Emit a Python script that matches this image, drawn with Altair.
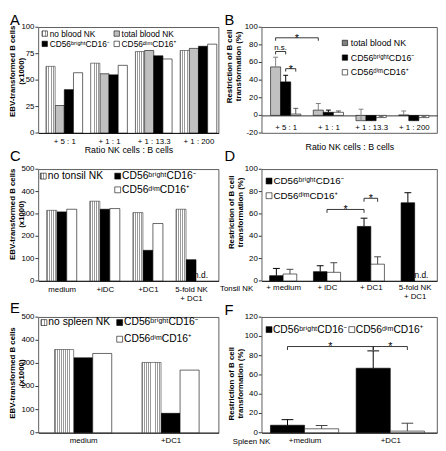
import json
import altair as alt
import pandas as pd

FONT = "Liberation Sans, Noto Sans, DejaVu Sans"
BRIGHT = "CD56ᵇʳⁱᵍʰᵗCD16⁻"
DIM = "CD56ᵈⁱᵐCD16⁺"

# ---------------- data ----------------
A_groups = ["+ 5 : 1", "+ 1 : 1", "+ 1 : 13.3", "+ 1 : 200"]
A_no_nk = [63, 66, 77, 78]
A_total = [26, 56, 78, 80]
A_bright = [41, 55, 73, 82]
A_dim = [57, 64, 70, 84]

B_groups = ["+ 5 : 1", "+ 1 : 1", "+ 1 : 13.3", "+ 1 : 200"]
B_total = [55, 6, -6, 0.5]
B_total_err = [11, 7.5, 13, 4.5]
B_bright = [38, 3.5, -6, -6]
B_bright_err = [7.5, 2.5, 1.5, 1.5]
B_dim = [1.5, 3.5, -2.5, -2.5]
B_dim_err = [6.5, 1.5, 1.5, 1.5]

C_groups = ["medium", "+iDC", "+DC1", "5-fold NK|+ DC1"]
C_no_nk = [316, 357, 306, 321]
C_bright = [309, 321, 137, 95]
C_dim = [321, 324, 257, None]

D_groups = ["+ medium", "+ iDC", "+ DC1", "5-fold NK|+ DC1"]
D_bright = [4.7, 8.3, 48.8, 70]
D_bright_err = [6.5, 5.3, 7.4, 9]
D_dim = [6.2, 7.7, 15, None]
D_dim_err = [4.2, 8.6, 6.6, None]

E_groups = ["medium", "+DC1"]
E_no_nk = [360, 304]
E_bright = [324, 84]
E_dim = [343, 271]

F_groups = ["+medium", "+DC1"]
F_bright = [7.8, 67]
F_bright_err = [5.8, 18]
F_dim = [4.1, 1.7]
F_dim_err = [3.4, 8.2]

# y tick values per panel
A_ticks = [0, 25, 50, 75, 100]
B_ticks = [-20, 0, 20, 40, 60, 80, 100]
C_ticks = [0, 100, 200, 300, 400, 500]
D_ticks = [0, 20, 40, 60, 80, 100]
E_ticks = [0, 100, 200, 300, 400, 500]
F_ticks = [0, 20, 40, 60, 80, 100, 120]

# significance brackets: (group, series or None for group centre, group, series, level, label)
B_sig = [(0, 0, 1, 0, 88, "*"), (0, 0, 0, 1, 72.5, "n.s."), (0, 1, 0, 2, 53, "*")]
D_sig = [(1, None, 2, 0, 64, "*"), (2, 0, 2, 1, 74, "*")]
F_sig = [(0, 0, 1, 0, 89.5, "*"), (1, 0, 1, 1, 89.5, "*")]

ONE = pd.DataFrame({"k": [0]})
HATCH = "hatch"


def stripes(n, line="#9a9a9a", bg="#ffffff", frac=0.42):
    stops = []
    for i in range(n):
        stops += [
            {"offset": i / n, "color": line},
            {"offset": (i + frac) / n, "color": line},
            {"offset": (i + frac) / n, "color": bg},
            {"offset": (i + 1) / n, "color": bg},
        ]
    return {"gradient": "linear", "x1": 0, "y1": 0, "x2": 1, "y2": 0, "stops": stops}


def center(gi, si, k, bw):
    if si is None:
        return gi
    return gi + (si - (k - 1) / 2) * bw


def build(p):
    groups, series, bw = p["groups"], p["series"], p["bw"]
    k = len(series)
    W, H = p["width"], p["height"]
    ymin, ymax = p["ydom"]
    xs = alt.Scale(domain=[p["lo"], p["hi"]], nice=False, zero=False)
    ys = alt.Scale(domain=[ymin, ymax], nice=False, zero=False)
    xa_kw = dict(values=list(range(len(groups))),
                 labelExpr="split(" + json.dumps(groups) + "[round(datum.value)], '|')",
                 tickSize=0, labelPadding=p["xpad"], labelFontSize=8, labelLineHeight=9,
                 labelAngle=0, labelAlign="center", labelBaseline="top",
                 labelOverlap=False, labelFlush=False, labelBound=False, grid=False,
                 titleFontSize=9, titleFontWeight="normal", titleBaseline="alphabetic")
    xa_kw.update(p["xaxis"])
    xa = alt.Axis(**xa_kw)

    def X(f):
        return alt.X(f, type="quantitative", scale=xs, axis=xa)

    def Y(f):
        return alt.Y(f, type="quantitative", scale=ys, axis=None)

    rows = []
    for si, s in enumerate(series):
        errs = s.get("errs")
        for gi in range(len(groups)):
            v = s["vals"][gi]
            e = errs[gi] if errs else None
            c = center(gi, si, k, bw)
            rows.append({"series": s["name"], "x0": c - bw / 2, "x1": c + bw / 2, "xc": c,
                         "v": v, "err": e, "z": 0,
                         "top": (v + e) if (v is not None and e is not None) else None})
    df = pd.DataFrame(rows)
    layers = []

    solid = [s for s in series if s["fill"] != HATCH]
    names = [s["name"] for s in solid]
    fills = [s["fill"] for s in solid]
    sdf = df[df.series.isin(names) & df.v.notna()]
    layers.append(alt.Chart(sdf).mark_bar(stroke="black", strokeWidth=0.6, opacity=1).encode(
        x=X("x0"), x2=alt.X2("x1"), y=Y("v"), y2=alt.datum(0),
        color=alt.Color("series:N", scale=alt.Scale(domain=names, range=fills), legend=None)))
    for s in series:
        if s["fill"] == HATCH:
            hdf = df[(df.series == s["name"]) & df.v.notna()]
            layers.append(alt.Chart(hdf).mark_bar(fill=stripes(p["hatch_n"]), stroke="#333",
                                                  strokeWidth=0.6, opacity=1).encode(
                x=X("x0"), x2=alt.X2("x1"), y=Y("v"), y2=alt.datum(0)))
    # error bars (upper only)
    for s in series:
        if s.get("errs"):
            edf = df[(df.series == s["name"]) & df.err.notna() & df.v.notna()]
            col = s.get("ecol", "#000000")
            layers.append(alt.Chart(edf).mark_rule(color=col, strokeWidth=1).encode(
                x=X("xc"), y=Y("v"), y2=alt.Y2("top")))
            layers.append(alt.Chart(edf).mark_tick(orient="horizontal", size=p["cap"], thickness=1,
                                                   color=col, opacity=1).encode(
                x=X("xc"), y=Y("top")))
    # not determined
    nd = df[df.v.isna()]
    if len(nd):
        layers.append(alt.Chart(nd).mark_text(text="n.d.", baseline="bottom", dy=-1, fontSize=8.5,
                                              font=FONT).encode(x=X("xc"), y=Y("z")))
    # significance brackets
    if p.get("sig"):
        drop = p["drop_px"] * (ymax - ymin) / H
        segs, labs = [], []
        for g1, s1, g2, s2, lvl, lab in p["sig"]:
            xl, xr = center(g1, s1, k, bw), center(g2, s2, k, bw)
            segs += [dict(x=xl, x2=xl, y=lvl - drop, y2=lvl),
                     dict(x=xl, x2=xr, y=lvl, y2=lvl),
                     dict(x=xr, x2=xr, y=lvl - drop, y2=lvl)]
            labs.append(dict(x=(xl + xr) / 2, y=lvl, t=lab))
        layers.append(alt.Chart(pd.DataFrame(segs)).mark_rule(color="black", strokeWidth=0.8).encode(
            x=X("x"), x2=alt.X2("x2"), y=Y("y"), y2=alt.Y2("y2")))
        ldf = pd.DataFrame(labs)
        stars = ldf[ldf.t == "*"]
        other = ldf[ldf.t != "*"]
        if len(stars):
            layers.append(alt.Chart(stars).mark_text(baseline="alphabetic", dy=4, fontSize=11,
                                                     font=FONT).encode(x=X("x"), y=Y("y"), text="t:N"))
        if len(other):
            layers.append(alt.Chart(other).mark_text(baseline="alphabetic", dy=-1.5, fontSize=8,
                                                     font=FONT).encode(x=X("x"), y=Y("y"), text="t:N"))
    # y-axis ticks and labels, placed through the y scale
    tdf = pd.DataFrame({"t": p["yvals"], "lab": [str(v) for v in p["yvals"]]})
    layers.append(alt.Chart(tdf).mark_rule(color="black", strokeWidth=0.8).encode(
        x=alt.value(-3), x2=alt.value(0), y=Y("t")))
    layers.append(alt.Chart(tdf).mark_text(align="right", baseline="middle", dx=-4, fontSize=8,
                                           font=FONT).encode(
        x=alt.value(0), y=Y("t"), text="lab:N"))
    # y-axis title: two rotated lines
    for line, xoff in zip(p["ytitle"], p["ytx"]):
        layers.append(alt.Chart(ONE).mark_text(angle=270, align="center", baseline="middle",
                                               fontSize=8, fontWeight="bold", font=FONT).encode(
            x=alt.value(xoff), y=alt.value(p["yty"]), text=alt.value(line)))
    # legend entries
    for fill, label, sx, sy in p["legend"]:
        f = stripes(2) if fill == HATCH else fill
        layers.append(alt.Chart(ONE).mark_square(size=p.get("sym", 30), fill=f, stroke="black",
                                                 strokeWidth=0.6, opacity=1).encode(
            x=alt.value(sx), y=alt.value(sy)))
        layers.append(alt.Chart(ONE).mark_text(align="left", baseline="middle", fontSize=p["lfs"],
                                               font=FONT).encode(
            x=alt.value(sx + p["ldx"]), y=alt.value(sy), text=alt.value(label)))
    # panel letter
    lt, lx, ly = p["letter"]
    layers.append(alt.Chart(ONE).mark_text(align="left", baseline="alphabetic", fontSize=15,
                                           font=FONT).encode(
        x=alt.value(lx), y=alt.value(ly), text=alt.value(lt)))
    return alt.layer(*layers).properties(width=W, height=H)


EBV = ["EBV-transformed B cells", "(x1000)"]
RES = ["Restriction of B cell", "transformation (%)"]

pA = dict(groups=A_groups, bw=0.205, lo=-0.58, hi=3.45, width=184, height=108,
          series=[dict(name="no blood NK", vals=A_no_nk, fill=HATCH),
                  dict(name="total blood NK", vals=A_total, fill="#c0c0c0"),
                  dict(name=BRIGHT, vals=A_bright, fill="#000000"),
                  dict(name=DIM, vals=A_dim, fill="#ffffff")],
          ydom=[0, 100], yvals=A_ticks, ytitle=EBV, ytx=(-26, -17), yty=45,
          xpad=5, xaxis=dict(title="Ratio NK cells : B cells", titleY=20),
          hatch_n=5, cap=5,
          legend=[(HATCH, "no blood NK", 6.5, 6.5), ("#c0c0c0", "total blood NK", 80, 6.5),
                  ("#000000", BRIGHT, 6.5, 17), ("#ffffff", DIM, 80, 17)],
          lfs=8.5, ldx=5, letter=("A", -29, -2))

pB = dict(groups=B_groups, bw=0.236, lo=-0.562, hi=3.544, width=179, height=108,
          series=[dict(name="total blood NK", vals=B_total, errs=B_total_err, fill="#808080", ecol="#808080"),
                  dict(name=BRIGHT, vals=B_bright, errs=B_bright_err, fill="#000000", ecol="#000000"),
                  dict(name=DIM, vals=B_dim, errs=B_dim_err, fill="#ffffff", ecol="#555555")],
          ydom=[-20, 100], yvals=B_ticks, ytitle=RES, ytx=(-32, -23), yty=40,
          xpad=8, xaxis=dict(title="Ratio NK cells : B cells", titleY=35, offset=-18),
          hatch_n=4, cap=5, sig=B_sig, drop_px=3,
          legend=[("#808080", "total blood NK", 85, 16), ("#000000", BRIGHT, 85, 31),
                  ("#ffffff", DIM, 85, 46)],
          lfs=9, ldx=6, letter=("B", -38, -2))

pC = dict(groups=C_groups, bw=0.232, lo=-0.542, hi=3.64, width=184, height=114,
          series=[dict(name="no tonsil NK", vals=C_no_nk, fill=HATCH),
                  dict(name=BRIGHT, vals=C_bright, fill="#000000"),
                  dict(name=DIM, vals=C_dim, fill="#ffffff")],
          ydom=[0, 500], yvals=C_ticks, ytitle=EBV, ytx=(-26, -17), yty=46,
          xpad=5, xaxis=dict(title=None),
          hatch_n=5, cap=5,
          legend=[(HATCH, "no tonsil NK", 5, 7), ("#000000", BRIGHT, 81, 7), ("#ffffff", DIM, 81, 21)],
          lfs=10.5, ldx=4.5, sym=36, letter=("C", -29, -8))

pD = dict(groups=D_groups, bw=0.31, lo=-0.49, hi=3.51, width=179, height=114,
          series=[dict(name=BRIGHT, vals=D_bright, errs=D_bright_err, fill="#000000", ecol="#000000"),
                  dict(name=DIM, vals=D_dim, errs=D_dim_err, fill="#ffffff", ecol="#444444")],
          ydom=[0, 100], yvals=D_ticks, ytitle=RES, ytx=(-30, -21.5), yty=44,
          xpad=3, xaxis=dict(title="Tonsil NK", titleX=-43, titleY=10, titleAlign="left", titleFontSize=8),
          hatch_n=4, cap=7, sig=D_sig, drop_px=3.5,
          legend=[("#000000", BRIGHT, 7.5, 12), ("#ffffff", DIM, 7.5, 27)],
          lfs=10, ldx=4.5, sym=36, letter=("D", -38, -8))

pE = dict(groups=E_groups, bw=0.218, lo=-0.513, hi=1.55, width=184, height=118,
          series=[dict(name="no spleen NK", vals=E_no_nk, fill=HATCH),
                  dict(name=BRIGHT, vals=E_bright, fill="#000000"),
                  dict(name=DIM, vals=E_dim, fill="#ffffff")],
          ydom=[0, 500], yvals=E_ticks, ytitle=EBV, ytx=(-26, -17), yty=57,
          xpad=4, xaxis=dict(title=None),
          hatch_n=9, cap=8,
          legend=[(HATCH, "no spleen NK", 5.7, 5.5), ("#000000", BRIGHT, 83, 5.5), ("#ffffff", DIM, 83, 22.5)],
          lfs=10.5, ldx=4.5, sym=36, letter=("E", -29, -4))

pF = dict(groups=F_groups, bw=0.398, lo=-0.5, hi=1.545, width=179, height=118,
          series=[dict(name=BRIGHT, vals=F_bright, errs=F_bright_err, fill="#000000", ecol="#000000"),
                  dict(name=DIM, vals=F_dim, errs=F_dim_err, fill="#ffffff", ecol="#444444")],
          ydom=[0, 120], yvals=F_ticks, ytitle=RES, ytx=(-30, -21.5), yty=68,
          xpad=3.5, xaxis=dict(title="Spleen NK", titleX=-30, titleY=11, titleAlign="left", titleFontSize=8),
          hatch_n=4, cap=12, sig=F_sig, drop_px=3.5,
          legend=[("#000000", BRIGHT, 7.5, 12.7), ("#ffffff", DIM, 92, 12.7)],
          lfs=10.5, ldx=4, sym=36, letter=("F", -38, -2))

panels = [build(p) for p in (pA, pB, pC, pD, pE, pF)]

chart = alt.concat(
    *panels, columns=2, spacing={"row": 37, "column": 44}, bounds="flush", align="each"
).properties(padding=0).configure_view(
    stroke="#333333", strokeWidth=0.8
).configure_axis(
    labelFont=FONT, titleFont=FONT, domainColor="black", tickColor="black",
    labelColor="black", titleColor="black", domainWidth=0.8, tickWidth=0.8, grid=False
).configure_text(font=FONT)

chart.save("out.html", embed_options={"renderer": "svg", "actions": False})
